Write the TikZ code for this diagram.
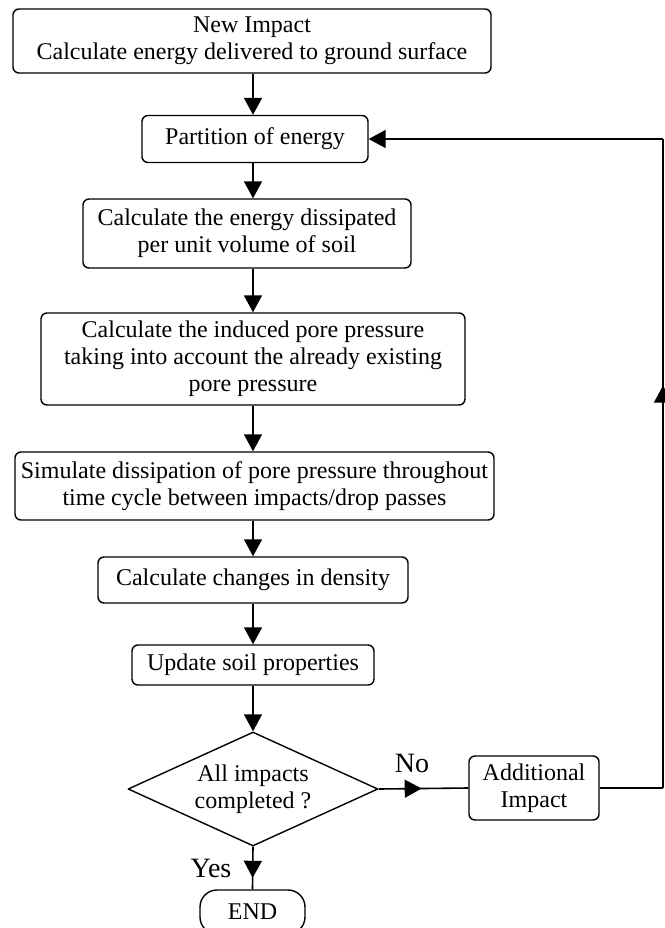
\documentclass[tikz,border=0pt]{standalone}
\usepackage{fontspec}
\setmainfont{Liberation Serif}
\usetikzlibrary{arrows.meta,shapes.geometric,decorations.markings}

\begin{document}
\begin{tikzpicture}[x=0.5pt,y=-0.5pt,line join=round,
  box/.style={draw,line width=0.7pt,rounded corners=3pt,align=center,inner sep=0pt,
    font=\fontsize{12}{13.5}\selectfont},
  flow/.style={line width=0.8pt,-{Triangle[length=8.5pt,width=9pt]}},
  midarrow/.style={line width=0.8pt,postaction={decorate},
    decoration={markings,mark=at position #1 with {\arrow{Triangle[length=8.5pt,width=9pt]}}}},
  lbl/.style={font=\fontsize{14}{16}\selectfont}]
\useasboundingbox (0,0) rectangle (665,928);
% main column
\node[box,minimum width=239pt,minimum height=32pt] (new) at (252,41)
  {New Impact\\Calculate energy delivered to ground surface};
\node[box,minimum width=113pt,minimum height=23.5pt] (part) at (255,139)
  {Partition of energy};
\node[box,minimum width=164pt,minimum height=34.5pt] (dissip) at (247,233.5)
  {Calculate the energy dissipated\\per unit volume of soil};
\node[box,minimum width=212pt,minimum height=46pt] (pore) at (253,359)
  {Calculate the induced pore pressure\\taking into account the already existing\\pore pressure};
\node[box,minimum width=239.5pt,minimum height=34pt] (simul) at (254.5,486)
  {Simulate dissipation of pore pressure throughout\\time cycle between impacts/drop passes};
\node[box,minimum width=155pt,minimum height=23pt] (dens) at (253,580)
  {Calculate changes in density};
\node[box,minimum width=121pt,minimum height=20pt] (upd) at (253,665)
  {Update soil properties};
% decision and loop
\node[draw,diamond,aspect=2.2,line width=0.7pt,inner sep=0pt,align=center,
  minimum width=125pt,minimum height=57pt,font=\fontsize{12}{13.5}\selectfont] (dec) at (253,789)
  {All impacts\\completed ?};
\node[box,minimum width=65pt,minimum height=32pt] (addl) at (534,788) {Additional\\Impact};
\node[box,rounded corners=8.5pt,minimum width=52.5pt,minimum height=22pt] (fin) at (252.5,912) {END};
\node[lbl] (no) at (412,763) {No};
\node[lbl] (yes) at (211,868) {Yes};
\coordinate (axis) at (253,0);
\coordinate (rb) at (663,788);
\coordinate (rt) at (663,139);
% connectors
\foreach \a/\b in {new/part,part/dissip,dissip/pore,pore/simul,simul/dens,dens/upd,upd/dec}
  \draw[flow] (axis |- \a.south) -- (axis |- \b.north);
\draw[midarrow=0.48] (dec.east) -- (addl.west);
\draw[midarrow=0.73] (dec.south) -- (fin.north);
\draw[line width=0.8pt] (addl.east) -- (rb);
\draw[midarrow=0.62] (rb) -- (rt);
\draw[flow] (rt) -- (part.east);
\end{tikzpicture}
\end{document}
